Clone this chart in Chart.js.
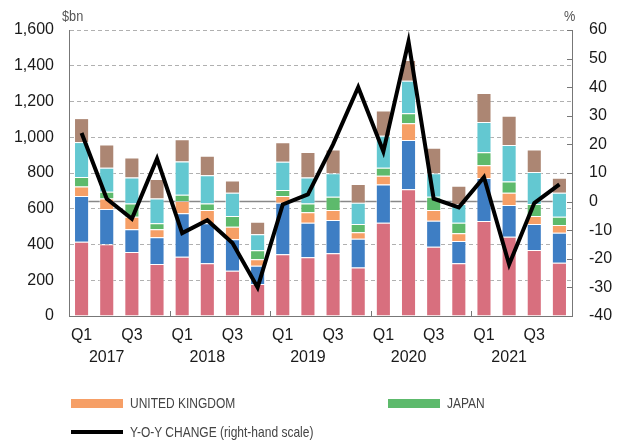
<!DOCTYPE html>
<html>
<head>
<meta charset="utf-8">
<script src="https://cdn.jsdelivr.net/npm/chart.js@4"></script>
<style>
  html, body { margin: 0; padding: 0; background: #fff; }
  #wrap { position: relative; width: 622px; height: 443px; }
  #mychart { position: absolute; left: 0; top: 0; }
  .unit { position: absolute; top: 7px; font-family: 'Liberation Sans', sans-serif; font-size: 15px; color: #555; transform: scaleX( 0.85 ); transform-origin: left center; }
  .lg { position: absolute; font-family: 'Liberation Sans', sans-serif; font-size: 15px; color: #444; white-space: nowrap; }
  .lg span.sw { position: absolute; left: 0; width: 52px; }
  .lg span.tx { position: absolute; left: 59px; top: -9px; transform: scaleX( 0.8 ); transform-origin: left center; }
</style>
</head>
<body>
<div id="wrap">
  <canvas id="mychart" width="622" height="443"></canvas>
  <div class="unit" style="left:62px;">$bn</div>
  <div class="unit" style="left:564px;">%</div>
  <div id="legend"></div>
</div>
<script>
//. tick labels
var years = [ '2017', '2018', '2019', '2020', '2021' ];
var quarterTicks = [ 'Q1', '', 'Q3', '' ];

//. stacked bars ($bn), bottom to top
var pinkValues  = [ 416, 401, 358, 291, 332, 295, 253, 179, 345, 328, 351, 272, 522, 709, 388, 295, 531, 444, 369, 298 ];
var blueValues  = [ 256, 197, 127, 149, 243, 224, 176, 102, 289, 194, 186, 160, 213, 276, 145, 125, 241, 177, 145, 168 ];
var ukValues    = [  52,  60,  70,  45,  69,  74,  70,  37,  37,  58,  56,  36,  49,  93,  60,  43,  71,  69,  45,  43 ];
var japanValues = [  53,  37,  75,  34,  34,  37,  60,  50,  34,  50,  74,  46,  46,  56,  74,  59,  73,  62,  67,  46 ];
var cyanValues  = [ 196, 134, 145, 138, 186, 158, 130,  90, 158, 145, 131, 119, 179, 182, 131, 105, 170, 204, 179, 134 ];
var brownValues = [ 134, 131, 112, 109, 125, 108,  69,  69, 109, 143, 134, 105, 140, 116, 143, 102, 161, 164, 127,  84 ];

//. y-o-y change (%), right-hand scale
var yoyValues = [ 24, 1, -6, 15, -11, -6.5, -14.5, -30, -1, 2.5, 20, 40, 17.5, 56, 1, -2, 8.5, -22, -0.5, 6 ];

var FONT = "'Liberation Sans', Arial, sans-serif";

var labels = [];
years.forEach( function( y ){
  for( var i = 0; i < quarterTicks.length; i ++ ){
    labels.push( [ quarterTicks[i], ( i == 1 ? y : '' ) ] );
  }
});

function barSet( label, data, color, inLegend ){
  return {
    type: 'bar',
    label: label,
    data: data,
    backgroundColor: color,
    borderColor: 'rgba( 255, 255, 255, 0.45 )',
    borderWidth: 1,
    barPercentage: 0.6,
    categoryPercentage: 1.0,
    yAxisID: 'y',
    order: 1,
    inLegend: inLegend
  };
}

var datasets = [
  {
    type: 'line',
    label: 'Y-O-Y CHANGE (right-hand scale)',
    data: yoyValues,
    borderColor: '#000',
    backgroundColor: '#000',
    borderWidth: 4,
    borderJoinStyle: 'miter',
    pointRadius: 0,
    tension: 0,
    yAxisID: 'y1',
    order: 0,
    inLegend: true
  },
  barSet( 'pink', pinkValues, '#d86f7e', false ),
  barSet( 'blue', blueValues, '#3e7ec4', false ),
  barSet( 'UNITED KINGDOM', ukValues, '#f69f66', true ),
  barSet( 'JAPAN', japanValues, '#5dba6c', true ),
  barSet( 'cyan', cyanValues, '#63c8d1', false ),
  barSet( 'brown', brownValues, '#ac8673', false )
];

//. zero line of the % scale, inward ticks on axes
var extrasPlugin = {
  id: 'extras',
  beforeDatasetsDraw: function( chart ){
    var ctx = chart.ctx;
    var x = chart.scales.x, y1 = chart.scales.y1;
    var y0 = y1.getPixelForValue( 0 );
    ctx.save();
    ctx.strokeStyle = '#888';
    ctx.lineWidth = 1.5;
    ctx.beginPath();
    ctx.moveTo( x.getPixelForValue( 0 ), y0 );
    ctx.lineTo( x.getPixelForValue( labels.length - 1 ), y0 );
    ctx.stroke();
    ctx.restore();
  },
  afterDraw: function( chart ){
    var ctx = chart.ctx;
    var x = chart.scales.x, y1 = chart.scales.y1, area = chart.chartArea;
    ctx.save();
    ctx.strokeStyle = '#777';
    ctx.lineWidth = 1;
    ctx.beginPath();
    y1.ticks.forEach( function( t ){
      var p = Math.round( y1.getPixelForValue( t.value ) ) + 0.5;
      ctx.moveTo( area.right - 5, p );
      ctx.lineTo( area.right, p );
    });
    for( var i = quarterTicks.length; i < labels.length; i += quarterTicks.length ){
      var px = Math.round( ( x.getPixelForValue( i - 1 ) + x.getPixelForValue( i ) ) / 2 ) + 0.5;
      ctx.moveTo( px, area.bottom );
      ctx.lineTo( px, area.bottom - 5 );
    }
    ctx.stroke();
    ctx.restore();
  }
};

var ctx = document.getElementById( 'mychart' );
var chart = new Chart( ctx, {
  data: { labels: labels, datasets: datasets },
  plugins: [ extrasPlugin ],
  options: {
    responsive: false,
    animation: false,
    layout: { padding: { top: 30 } },
    plugins: { legend: { display: false }, tooltip: { enabled: false } },
    scales: {
      x: {
        stacked: true,
        grid: { display: false, drawTicks: false },
        border: { display: true, color: '#777', width: 1 },
        ticks: { autoSkip: false, maxRotation: 0, padding: 9, color: '#1a1a1a', font: { family: FONT, size: 16, lineHeight: '22px' } },
        afterFit: function( s ){ s.height = 127; }
      },
      y: {
        stacked: true,
        position: 'left',
        min: 0,
        max: 1600,
        grid: { color: '#b0b0b0', drawTicks: false },
        border: { display: true, color: '#777', width: 1, dash: [ 4, 3 ] },
        ticks: {
          stepSize: 200,
          padding: 15,
          color: '#1a1a1a',
          font: { family: FONT, size: 16 },
          callback: function( v ){ return v.toLocaleString( 'en-US' ); }
        },
        afterFit: function( s ){ s.width = 69; }
      },
      y1: {
        position: 'right',
        min: -40,
        max: 60,
        grid: { display: false, drawTicks: false },
        border: { display: true, color: '#777', width: 1 },
        ticks: { stepSize: 10, padding: 17, color: '#1a1a1a', font: { family: FONT, size: 16 } },
        afterFit: function( s ){ s.width = 50; }
      }
    }
  }
});

//. html legend, two columns
var legendHtml = '';
var col = 0, row = 0;
datasets.filter( function( d ){ return d.inLegend && d.type == 'bar'; } ).concat(
  datasets.filter( function( d ){ return d.inLegend && d.type == 'line'; } )
).forEach( function( d ){
  var left = ( col == 0 ? 71 : 388 );
  var top = 403 + row * 29;
  var h = ( d.type == 'line' ? 4 : 9 );
  legendHtml += '<div class="lg" style="left:' + left + 'px;top:' + top + 'px;">'
    + '<span class="sw" style="top:' + ( -h / 2 ) + 'px;height:' + h + 'px;background:' + d.backgroundColor + ';"></span>'
    + '<span class="tx">' + d.label + '</span></div>';
  col ++;
  if( col > 1 || d.type == 'line' ){ col = 0; row ++; }
});
document.getElementById( 'legend' ).innerHTML = legendHtml;
</script>
</body>
</html>
